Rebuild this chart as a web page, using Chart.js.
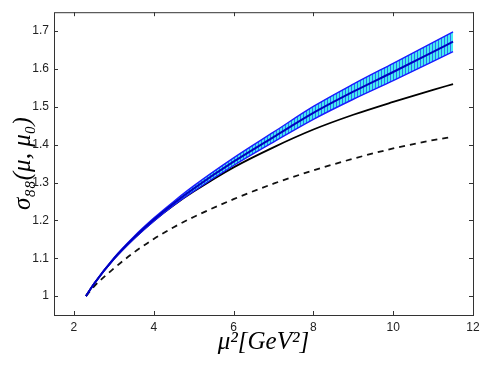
<!DOCTYPE html>
<html>
<head>
<meta charset="utf-8">
<script src="https://cdn.jsdelivr.net/npm/chart.js@4.4.1/dist/chart.umd.min.js"></script>
<style>
  html, body { margin: 0; padding: 0; background: #fff; }
  #wrap { width: 491px; height: 369px; }
</style>
</head>
<body>
<div id="wrap"><canvas id="sigmaChart"></canvas></div>
<script>
// mu^2 sample points (GeV^2)
const muSq = [2.3, 2.5, 3, 3.5, 4, 4.5, 5, 6, 7, 8, 9, 10, 11, 11.5];

// band (upper / central / lower) and the two black curves
const bandUpper = [1.000, 1.033, 1.101, 1.157, 1.206, 1.250, 1.291, 1.365, 1.433, 1.501, 1.560, 1.615, 1.670, 1.698];
const bandCenter = [1.000, 1.032, 1.099, 1.154, 1.202, 1.245, 1.284, 1.355, 1.420, 1.484, 1.540, 1.592, 1.645, 1.672];
const bandLower = [1.000, 1.031, 1.097, 1.151, 1.198, 1.240, 1.277, 1.345, 1.407, 1.467, 1.520, 1.569, 1.620, 1.646];
const solidCurve = [1.000, 1.032, 1.098, 1.152, 1.199, 1.240, 1.276, 1.340, 1.393, 1.440, 1.479, 1.513, 1.545, 1.560];
const dashedCurve = [1.000, 1.025, 1.073, 1.115, 1.151, 1.182, 1.209, 1.256, 1.297, 1.332, 1.363, 1.390, 1.412, 1.421];

const xTicks = [2, 4, 6, 8, 10, 12];
const yTicks = [1, 1.1, 1.2, 1.3, 1.4, 1.5, 1.6, 1.7];

const toPoints = ys => muSq.map((x, i) => ({ x: x, y: ys[i] }));

// hatch pattern for the band: blue vertical stripes on cyan
function makeHatch() {
    const c = document.createElement('canvas');
    c.width = 3; c.height = 1;
    const g = c.getContext('2d');
    g.fillStyle = '#45ecf0';
    g.fillRect(0, 0, 3, 1);
    g.fillStyle = '#2f6cf2';
    g.fillRect(0, 0, 1, 1);
    return g.createPattern(c, 'repeat');
}

// MATLAB-like box with inward ticks on every side
const boxPlugin = {
    id: 'matlabBox',
    afterDraw(chart) {
        const { ctx, chartArea: a, scales } = chart;
        ctx.save();
        ctx.strokeStyle = '#333';
        ctx.lineWidth = 1;
        ctx.strokeRect(a.left + 0.5, a.top + 0.5, a.right - a.left, a.bottom - a.top);
        ctx.beginPath();
        xTicks.forEach(v => {
            const px = Math.round(scales.x.getPixelForValue(v)) + 0.5;
            ctx.moveTo(px, a.bottom); ctx.lineTo(px, a.bottom - 4);
            ctx.moveTo(px, a.top); ctx.lineTo(px, a.top + 4);
        });
        yTicks.forEach(v => {
            const py = Math.round(scales.y.getPixelForValue(v)) + 0.5;
            ctx.moveTo(a.left, py); ctx.lineTo(a.left + 4, py);
            ctx.moveTo(a.right, py); ctx.lineTo(a.right - 4, py);
        });
        ctx.stroke();
        ctx.restore();
    }
};

const tickFont = { family: 'Liberation Sans, Arial, sans-serif', size: 12 };
const titleFont = { family: 'Liberation Serif, DejaVu Serif, serif', size: 25, style: 'italic' };

new Chart(document.getElementById('sigmaChart'), {
    type: 'line',
    data: {
        datasets: [
            // higher order = drawn earlier (underneath)
            { data: toPoints(bandUpper), borderColor: '#1a1aff', borderWidth: 1.4, fill: 1, backgroundColor: makeHatch(), order: 3 },
            { data: toPoints(bandLower), borderColor: '#1a1aff', borderWidth: 1.4, fill: false, order: 2 },
            { data: toPoints(bandCenter), borderColor: '#0000c0', borderWidth: 2, fill: false, order: 1 },
            { data: toPoints(solidCurve), borderColor: '#000', borderWidth: 1.8, fill: false, order: 4 },
            { data: toPoints(dashedCurve), borderColor: '#111', borderWidth: 1.8, borderDash: [6, 5], fill: false, order: 5 }
        ]
    },
    options: {
        responsive: true,
        maintainAspectRatio: false,
        animation: false,
        parsing: false,
        layout: { padding: { top: 10, right: 18, left: 0, bottom: 0 } },
        elements: { point: { radius: 0 }, line: { cubicInterpolationMode: 'monotone' } },
        plugins: { legend: { display: false }, tooltip: { enabled: false } },
        scales: {
            x: {
                type: 'linear', min: 1.5, max: 12,
                afterBuildTicks: s => { s.ticks = xTicks.map(v => ({ value: v })); },
                afterFit: s => { s.height = 54; },
                grid: { display: false, drawTicks: false },
                border: { display: false },
                ticks: { font: tickFont, color: '#222', padding: 5, maxRotation: 0 },
                title: { display: true, text: 'μ²[GeV²]', font: titleFont, color: '#000', padding: { top: 0, bottom: 12 } }
            },
            y: {
                type: 'linear', min: 0.95, max: 1.75,
                afterBuildTicks: s => { s.ticks = yTicks.map(v => ({ value: v })); },
                afterFit: s => { s.width = 54; },
                grid: { display: false, drawTicks: false },
                border: { display: false },
                ticks: { font: tickFont, color: '#222', padding: 5, callback: v => String(v) },
                title: { display: true, text: 'σ₈₈(μ, μ₀)', font: titleFont, color: '#000', padding: { top: 8, bottom: 0 } }
            }
        }
    },
    plugins: [boxPlugin]
});
</script>
</body>
</html>
